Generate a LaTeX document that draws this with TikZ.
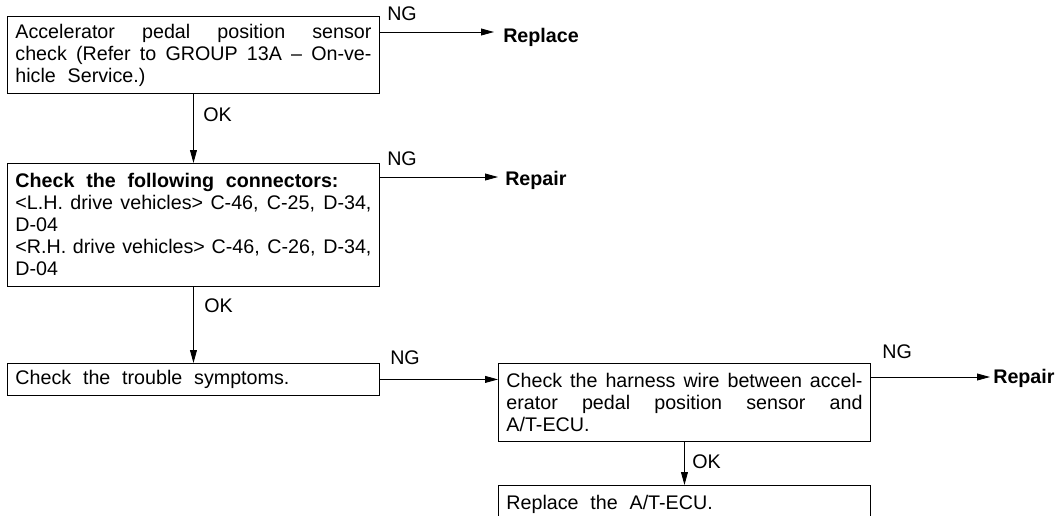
\documentclass[tikz,border=0pt]{standalone}
\usepackage{fontspec}
\setmainfont{Liberation Sans}
\usetikzlibrary{arrows.meta}

\tolerance=10000
\hyphenpenalty=10000
\newcommand{\flowfont}{\fontsize{14pt}{15.65pt}\selectfont\spaceskip=0.6em plus 1em minus 0.3em\relax}

\tikzset{
    checkbox/.style={draw, line width=0.6pt, anchor=north west, align=justify,
        text width=8.9cm, inner xsep=0.2cm, inner ysep=0pt},
    flowarrow/.style={line width=0.6pt, -{Triangle[length=0.32cm, width=0.17cm]}},
    tag/.style={anchor=base west, inner sep=0pt},
    result/.style={tag, font=\flowfont\bfseries}
}

\begin{document}
\begin{tikzpicture}[x=0.025cm, y=-0.025cm, font=\flowfont]
        \useasboundingbox (0,0) rectangle (1061,515);
        \clip (0,0) rectangle (1061,515);

        % Left column
        \node[checkbox, minimum height=1.925cm] (sensor) at (7,16)
            {Accelerator pedal position sensor\linebreak check (Refer to GROUP 13A -- On-ve-\linebreak hicle Service.)};
        \node[checkbox, minimum height=3.075cm] (conn) at (7,163)
            {\textbf{Check the following connectors:}\\ <L.H. drive vehicles> C-46, C-25, D-34,\linebreak D-04\\ <R.H. drive vehicles> C-46, C-26, D-34,\linebreak D-04};
        \node[checkbox, minimum height=0.8cm] (symptom) at (7,363) {Check the trouble symptoms.};

        % Right column
        \node[checkbox, minimum height=1.95cm] (harness) at (498,363)
            {Check the harness wire between accel-\linebreak erator pedal position sensor and\linebreak A/T-ECU.};
        \node[checkbox, minimum height=0.95cm] (ecu) at (498,485) {Replace the A/T-ECU.};

        % Results
        \node[result] (replace) at (503,42) {Replace};
        \node[result] (repair1) at (505,185) {Repair};
        \node[result] (repair2) at (993,383) {Repair};
        \coordinate (tip1) at (494,32);
        \coordinate (tip2) at (498,177);
        \coordinate (tip4) at (990,377);

        % NG / OK connections
        \draw[flowarrow] (sensor.east |- tip1) -- (tip1);
        \draw[flowarrow] (sensor.south) -- (conn.north);
        \draw[flowarrow] (conn.east |- tip2) -- (tip2);
        \draw[flowarrow] (conn.south) -- (symptom.north);
        \draw[flowarrow] (symptom.east) -- (harness.west |- symptom.east);
        \draw[flowarrow] (harness.east |- tip4) -- (tip4);
        \draw[flowarrow] (harness.south) -- (ecu.north);

        \node[tag] (ng1) at (387,20) {NG};
        \node[tag] (ng2) at (387,165) {NG};
        \node[tag] (ng3) at (390,364) {NG};
        \node[tag] (ng4) at (882,358) {NG};
        \node[tag] (ok1) at (203,121) {OK};
        \node[tag] (ok2) at (204,312) {OK};
        \node[tag] (ok3) at (692,468) {OK};
\end{tikzpicture}
\end{document}
